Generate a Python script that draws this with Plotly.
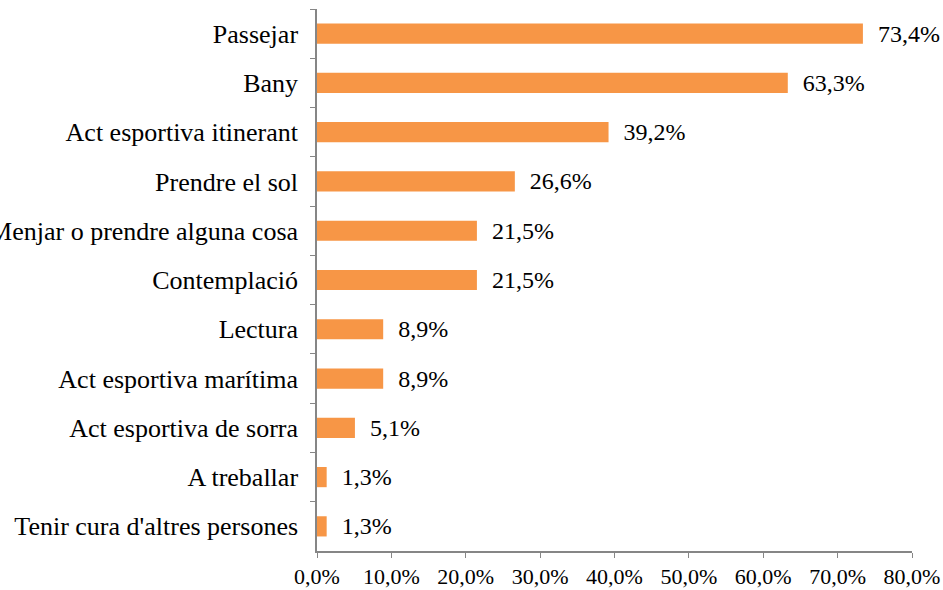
import plotly.graph_objects as go

categories = ["Passejar", "Bany", "Act esportiva itinerant", "Prendre el sol",
              "Menjar o prendre alguna cosa", "Contemplació", "Lectura",
              "Act esportiva marítima", "Act esportiva de sorra", "A treballar",
              "Tenir cura d'altres persones"]
values = [73.4, 63.3, 39.2, 26.6, 21.5, 21.5, 8.9, 8.9, 5.1, 1.3, 1.3]
tick_vals = [0, 10, 20, 30, 40, 50, 60, 70, 80]
tick_labels = ["0,0%", "10,0%", "20,0%", "30,0%", "40,0%", "50,0%", "60,0%", "70,0%", "80,0%"]

FONT = "Liberation Serif"

fig = go.Figure(go.Bar(
    y=categories, x=values, orientation="h",
    marker=dict(color="#F79646", line=dict(width=0)),
    texttemplate="\u00a0\u00a0%{x:.1f}%", textposition="outside",
    textfont=dict(family=FONT, size=24, color="#000000"),
    constraintext="none",
    cliponaxis=False, width=0.41,
))

fig.update_layout(
    width=943, height=590,
    margin=dict(l=317, r=31, t=9, b=39, autoexpand=False),
    plot_bgcolor="white", paper_bgcolor="white",
    separators=",.",
    showlegend=False,
    font=dict(family=FONT, size=24, color="#000000"),
)
fig.update_xaxes(
    range=[0, 80], tickvals=tick_vals, ticktext=tick_labels, automargin=False,
    showgrid=False, zeroline=False, showline=True, linecolor="#868686", linewidth=1.5,
    ticks="outside", ticklen=5, tickcolor="#868686",
    tickfont=dict(family=FONT, size=22, color="#000000"),
)
fig.update_yaxes(
    autorange="reversed", showgrid=False, zeroline=False, automargin=False,
    showline=True, linecolor="#868686", linewidth=1.5,
    ticks="outside", ticklen=5, tickcolor="#868686", tickson="boundaries",
    ticklabelstandoff=12,
    tickfont=dict(family=FONT, size=26, color="#000000"),
)

fig.write_html("out.html", config={"displayModeBar": False},
               post_script="document.body.style.margin='0';")
